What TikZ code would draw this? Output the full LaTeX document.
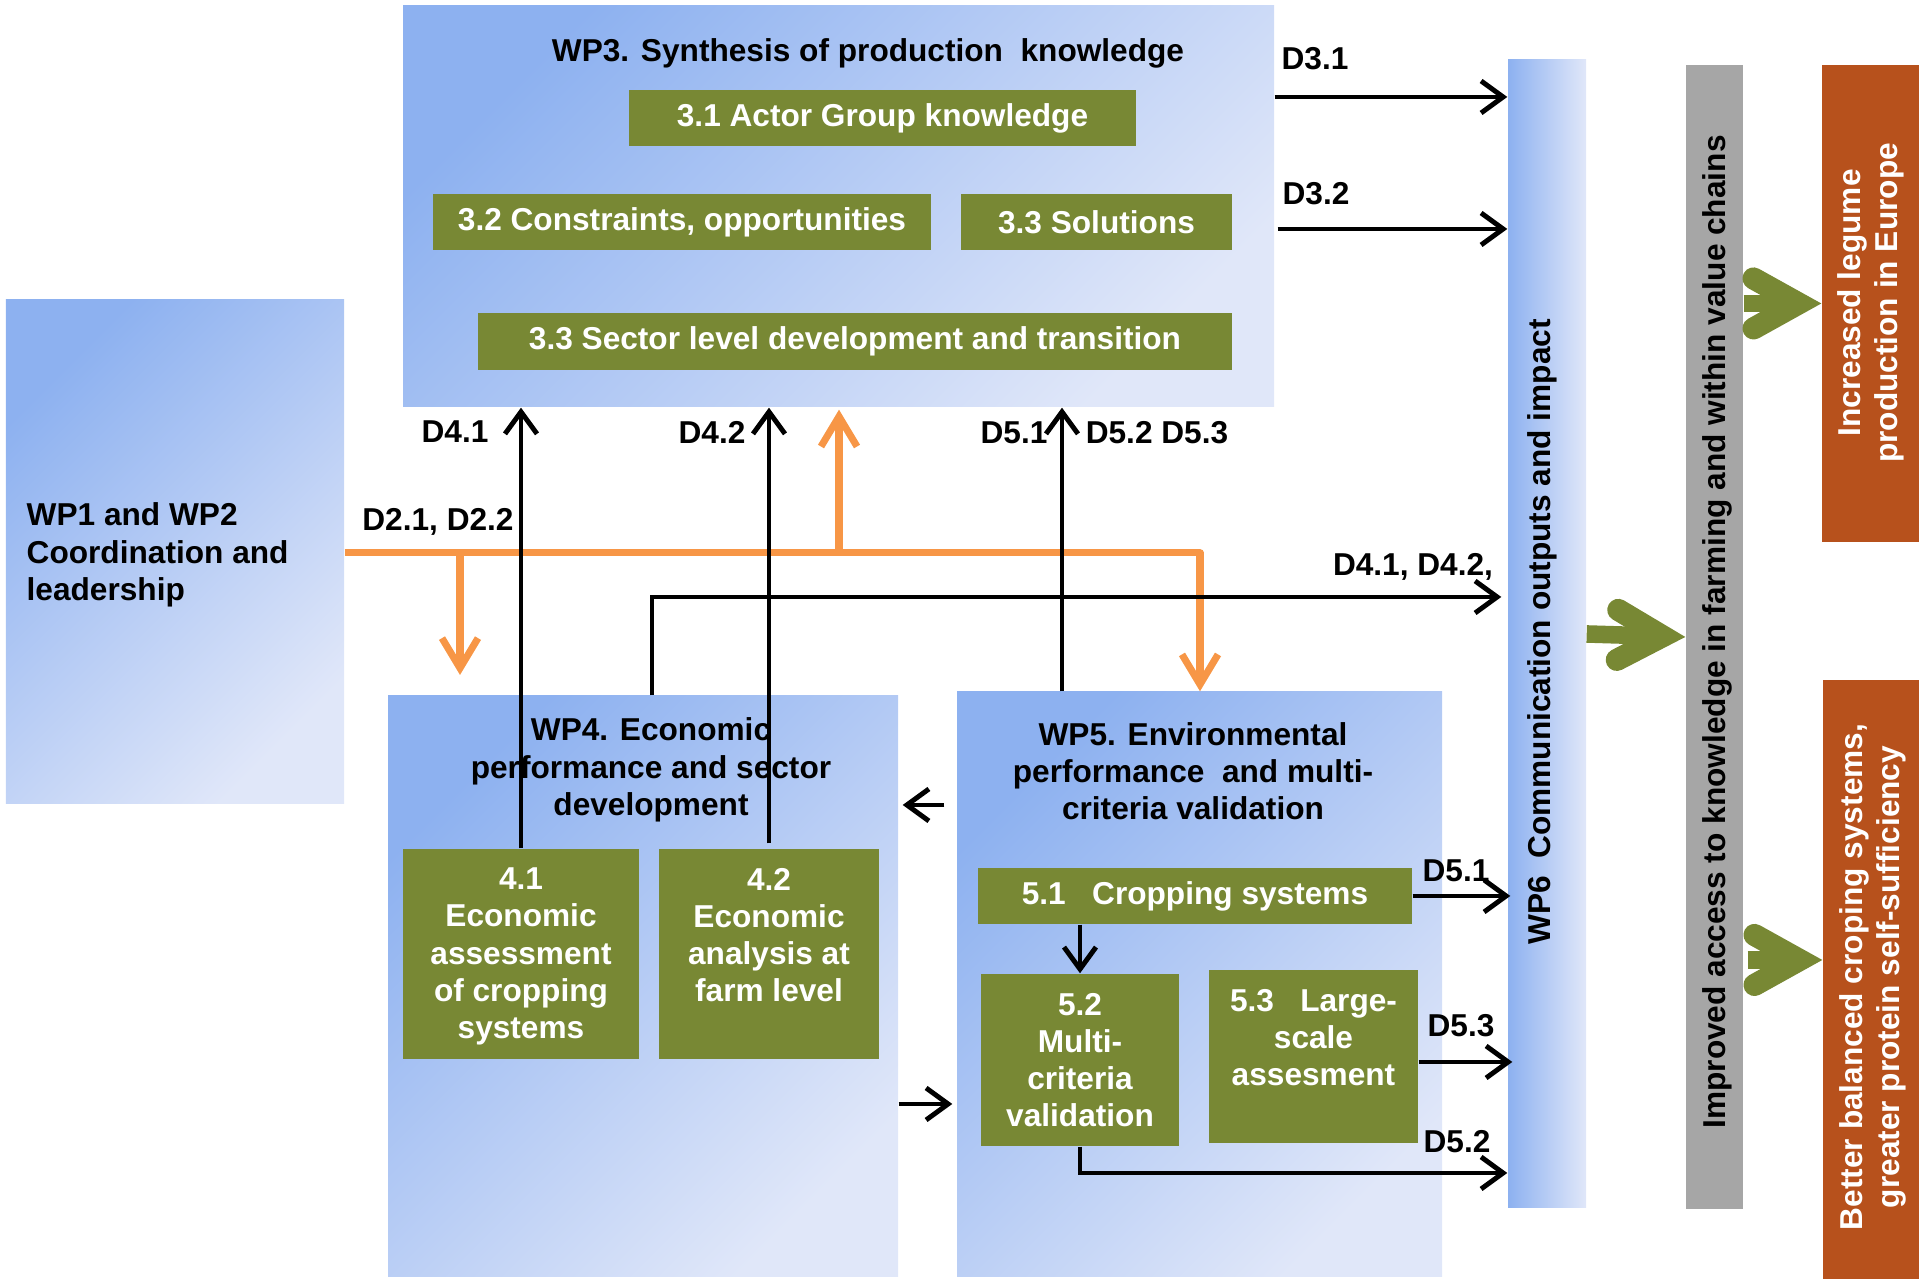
\documentclass[tikz,border=0pt]{standalone}
\usepackage{fontspec}
\setmainfont{Liberation Sans}
\usetikzlibrary{arrows.meta,calc}
\definecolor{wpdark}{RGB}{141,177,240}
\definecolor{wplight}{RGB}{224,231,249}
\definecolor{taskgreen}{RGB}{120,136,52}
\definecolor{outorange}{RGB}{183,81,28}
\definecolor{accessgray}{RGB}{166,166,166}
\definecolor{leadorange}{RGB}{247,150,70}

\tikzset{
  wpbox/.style={top color=wpdark, bottom color=wplight, shading angle=45, inner sep=0pt},
  task/.style={fill=taskgreen, inner sep=0pt, text=white},
  tasktxt/.style={text=white, align=center, inner sep=0pt, anchor=north},
  bar/.style={inner sep=0pt},
  dlab/.style={inner sep=0pt},
  deliv/.style={-{Straight Barb[length=0.22cm,width=0.32cm]}, line width=1.4pt},
  lead/.style={-{Straight Barb[length=0.3cm,width=0.36cm]}, leadorange, line width=2pt, line join=round},
  impact/.style={-{Straight Barb[length=0.45cm,width=0.5cm,line width=6.3pt,line cap=round]}, taskgreen, line width=5pt},
}

\begin{document}
\begin{tikzpicture}[font=\fontsize{9}{10.6}\selectfont\bfseries]
  \useasboundingbox (0,0) rectangle (19.19,12.83);
  % work packages
  \node[wpbox, minimum width=3.38cm, minimum height=5.04cm] (wp1) at (1.75,7.31) {};
  \node[wpbox, minimum width=8.71cm, minimum height=4.01cm] (wp3) at (8.385,10.765) {};
  \node[wpbox, minimum width=5.10cm, minimum height=5.81cm] (wp4) at (6.43,2.965) {};
  \node[wpbox, minimum width=4.85cm, minimum height=5.85cm] (wp5) at (11.995,2.985) {};
  \node[bar, left color=wpdark, right color=wplight, minimum width=0.78cm, minimum height=11.48cm] (wp6) at (15.47,6.49) {};
  \node[bar, fill=accessgray, minimum width=0.57cm, minimum height=11.44cm] (gray) at (17.145,6.46) {};
  \node[bar, fill=outorange, minimum width=0.97cm, minimum height=4.77cm] (out1) at (18.705,9.795) {};
  \node[bar, fill=outorange, minimum width=0.96cm, minimum height=5.99cm] (out2) at (18.71,3.035) {};

  % titles
  \node[anchor=west, align=left, inner sep=0pt] (wp1txt) at (0.26,7.28) {WP1 and WP2\\Coordination and\\leadership};
  \node[inner sep=0pt] (wp3txt) at (8.68,12.30) {WP3. Synthesis of production\ \ knowledge};
  \node[align=center, inner sep=0pt] (wp4txt) at (6.51,5.13) {WP4. Economic\\performance and sector\\development};
  \node[align=center, inner sep=0pt] (wp5txt) at (11.93,5.12) {WP5. Environmental\\performance\ \ and multi-\\criteria validation};
  \node[rotate=90, inner sep=0pt] (wp6txt) at (15.42,6.51) {WP6\ \ Communication outputs and impact};
  \node[rotate=90, inner sep=0pt] (graytxt) at (17.17,6.51) {Improved access to knowledge in farming and within value chains};
  \node[rotate=90, align=center, text=white, inner sep=0pt] (out1txt) at (18.71,9.80) {Increased legume\\production in Europe};
  \node[rotate=90, align=center, text=white, inner sep=0pt] (out2txt) at (18.73,3.06) {Better balanced croping systems,\\greater protein self-sufficiency};

  % tasks
  \node[task, minimum width=5.07cm, minimum height=0.56cm] (t31) at (8.825,11.65) {3.1 Actor Group knowledge};
  \node[task, minimum width=4.98cm, minimum height=0.56cm] (t32) at (6.82,10.61) {3.2 Constraints, opportunities};
  \node[task, minimum width=2.71cm, minimum height=0.56cm] (t33) at (10.965,10.61) {3.3 Solutions};
  \node[task, minimum width=7.54cm, minimum height=0.57cm] (t34) at (8.55,9.415) {3.3 Sector level development and transition};
  \node[task, minimum width=2.36cm, minimum height=2.10cm] (t41) at (5.21,3.29) {};
  \node[task, minimum width=2.20cm, minimum height=2.10cm] (t42) at (7.69,3.29) {};
  \node[task, minimum width=4.34cm, minimum height=0.56cm] (t51) at (11.95,3.87) {5.1\ \ \ Cropping systems};
  \node[task, minimum width=1.98cm, minimum height=1.72cm] (t52) at (10.80,2.23) {};
  \node[task, minimum width=2.09cm, minimum height=1.73cm] (t53) at (13.135,2.265) {};
  \node[tasktxt] (t41txt) at ([yshift=-0.19cm]t41.north) {4.1\\Economic\\assessment\\of cropping\\systems};
  \node[tasktxt] (t42txt) at ([yshift=-0.19cm]t42.north) {4.2\\Economic\\analysis at\\farm level};
  \node[tasktxt] (t52txt) at ([yshift=-0.19cm]t52.north) {5.2\\Multi-\\criteria\\validation};
  \node[tasktxt] (t53txt) at ([yshift=-0.19cm]t53.north) {5.3\ \ \ Large-\\scale\\assesment};

  % deliverable labels
  \node[dlab] (lD31) at (13.15,12.24) {D3.1};
  \node[dlab] (lD32) at (13.16,10.89) {D3.2};
  \node[dlab] (lD4x) at (14.13,7.16) {D4.1, D4.2,};
  \node[dlab] (lD2) at (4.38,7.61) {D2.1, D2.2};
  \node[dlab] (lD41) at (4.55,8.51) {D4.1};
  \node[dlab] (lD42) at (7.12,8.51) {D4.2};
  \node[dlab] (lD51a) at (10.14,8.50) {D5.1};
  \node[dlab] (lD523) at (11.57,8.50) {D5.2 D5.3};
  \node[dlab] (lD51) at (14.56,4.12) {D5.1};
  \node[dlab] (lD53) at (14.61,2.57) {D5.3};
  \node[dlab] (lD52) at (14.57,1.41) {D5.2};

  % coordination links
  \coordinate (jd) at (4.60,7.30);
  \coordinate (ju) at (8.39,7.30);
  \draw[lead] (wp1.east |- jd) -| (12.00,0 |- wp5.north);
  \draw[lead] (jd) -- ++(0,-1.22);
  \draw[lead, shorten >=0.02cm] (ju) -- (ju |- wp3.south);

  % deliverables
  \draw[deliv] (wp3.east |- 0,11.86) -- (wp6.west |- 0,11.86);
  \draw[deliv] ([xshift=0.03cm]wp3.east |- 0,10.54) -- (wp6.west |- 0,10.54);
  \draw[deliv] (t41.north) -- (t41.north |- wp3.south);
  \draw[deliv] ([yshift=0.05cm]t42.north) -- (t42.north |- wp3.south);
  \draw[deliv] (10.62,0 |- wp5.north) -- (10.62,0 |- wp3.south);
  \draw[deliv] (6.52,0 |- wp4.north) |- ([xshift=-0.06cm]wp6.west |- 0,6.86);
  \draw[deliv, shorten <=0.12cm, shorten >=0.04cm] (wp5.west |- 0,4.78) -- (wp4.east |- 0,4.78);
  \draw[deliv, shorten >=0.04cm] (wp4.east |- 0,1.79) -- (wp5.west |- 0,1.79);
  \draw[deliv] (t51.east) -- ([xshift=0.03cm]wp6.west |- t51.east);
  \draw[deliv] (t51.south -| t52.north) -- (t52.north);
  \draw[deliv] (t53.east |- 0,2.21) -- ([xshift=0.05cm]wp6.west |- 0,2.21);
  \draw[deliv] (t52.south) |- (wp6.west |- 0,1.10);

  % impact
  \draw[impact] (wp6.east) -- (gray.west);
  \draw[impact] (gray.east |- out1.west) -- (out1.west);
  \draw[impact] ([xshift=0.04cm]gray.east |- 0,3.23) -- (out2.west |- 0,3.23);
\end{tikzpicture}
\end{document}
